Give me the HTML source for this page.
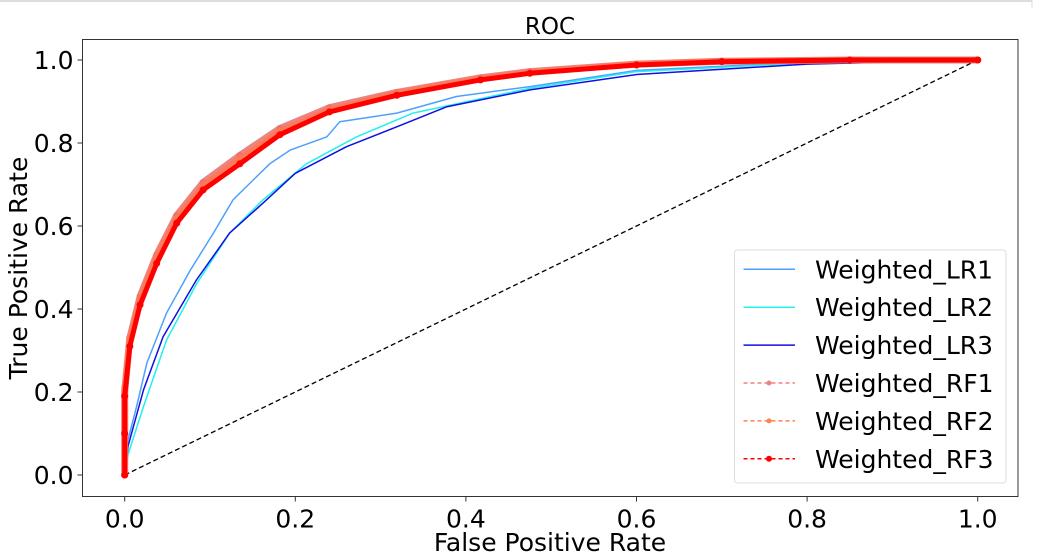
<!DOCTYPE html>
<html><head><meta charset="utf-8"><style>
html,body{margin:0;padding:0;background:#fff;}
svg{display:block;font-family:"DejaVu Sans","Liberation Sans",sans-serif;}
</style></head><body>
<svg id="chart" width="1049" height="559" viewBox="0 0 1049 559">
<line x1="0" y1="1" x2="1032" y2="1" stroke="#ddd" stroke-width="2"/>
<line x1="1032" y1="0" x2="1032" y2="8" stroke="#ddd" stroke-width="1"/>
<g id="plot"></g>
</svg>
<script>
const xTicks=[0,0.2,0.4,0.6,0.8,1.0];
const yTicks=[0,0.2,0.4,0.6,0.8,1.0];
const tickLabels=["0.0","0.2","0.4","0.6","0.8","1.0"];
const seriesNames=["Weighted_LR1","Weighted_LR2","Weighted_LR3","Weighted_RF1","Weighted_RF2","Weighted_RF3"];
const lr1F=[0,0.002,0.014,0.026,0.049,0.077,0.104,0.127,0.17,0.194,0.237,0.252,0.319,0.389,0.475,0.6,0.8,1];
const lr1T=[0,0.07,0.165,0.27,0.39,0.494,0.583,0.663,0.75,0.783,0.815,0.851,0.872,0.912,0.936,0.975,0.995,1];
const lr2F=[0,0.004,0.022,0.049,0.084,0.123,0.162,0.213,0.272,0.338,0.475,0.6,0.8,1];
const lr2T=[0,0.05,0.165,0.325,0.46,0.583,0.663,0.75,0.815,0.872,0.932,0.972,0.993,1];
const lr3F=[0,0.004,0.022,0.045,0.084,0.123,0.162,0.2,0.26,0.319,0.377,0.475,0.6,0.8,1];
const lr3T=[0,0.07,0.205,0.333,0.47,0.583,0.655,0.727,0.791,0.839,0.887,0.928,0.965,0.99,1];
const rf1F=[0,0,0.006,0.018,0.0375,0.061,0.092,0.135,0.182,0.24,0.319,0.417,0.475,0.6,0.7,0.85,1];
const rf1T=[0,0.2,0.33,0.43,0.53,0.625,0.705,0.77,0.835,0.885,0.922,0.957,0.972,0.99,0.997,1,1];
const rf2F=[0,0,0.006,0.018,0.0375,0.061,0.092,0.135,0.182,0.24,0.319,0.417,0.475,0.6,0.7,0.85,1];
const rf2T=[0,0.21,0.325,0.425,0.525,0.618,0.697,0.762,0.828,0.88,0.92,0.955,0.97,0.99,0.997,1,1];
const rf3F=[0,0,0,0.006,0.018,0.0375,0.061,0.092,0.135,0.182,0.24,0.319,0.417,0.475,0.6,0.7,0.85,1];
const rf3T=[0,0.1,0.19,0.31,0.41,0.51,0.607,0.687,0.75,0.82,0.875,0.915,0.952,0.968,0.988,0.996,1,1];

const NS="http://www.w3.org/2000/svg";
const g=document.getElementById('plot');
const L=82.5,R=1018,T=39.5,B=496.5;
const X0=124.7,X1=977.7,Y0=475,Y1=60;
function xs(v){return X0+(X1-X0)*v;}
function ys(v){return Y0-(Y0-Y1)*v;}
function mk(tag,attrs,parent){const e=document.createElementNS(NS,tag);for(const k in attrs)e.setAttribute(k,attrs[k]);(parent||g).appendChild(e);return e;}

const title=mk('text',{x:550,y:34,'text-anchor':'middle','font-size':23,fill:'#000'});
title.textContent='ROC';



xTicks.forEach((v,i)=>{
  const t=mk('line',{x1:xs(v),x2:xs(v),y1:B,y2:B+5,stroke:'#333','stroke-width':1});
  
  
  const l=mk('text',{x:xs(v),y:B+31,'text-anchor':'middle','font-size':25,fill:'#000'});
  l.textContent=tickLabels[i];
  
  
});
yTicks.forEach((v,i)=>{
  const t=mk('line',{x1:L-5,x2:L,y1:ys(v),y2:ys(v),stroke:'#333','stroke-width':1});
  
  
  const l=mk('text',{x:L-9,y:ys(v)+9,'text-anchor':'end','font-size':25,fill:'#000'});
  l.textContent=tickLabels[i];
  
  
});
const xl=mk('text',{x:550,y:551,'text-anchor':'middle','font-size':25,fill:'#000'});
xl.textContent='False Positive Rate';


const yl=mk('text',{x:0,y:0,'text-anchor':'middle','font-size':25,fill:'#000',transform:'translate(27,268) rotate(-90)'});
yl.textContent='True Positive Rate';



const diag=mk('line',{x1:xs(0),y1:ys(0),x2:xs(1),y2:ys(1),stroke:'#000','stroke-width':1.3,'stroke-dasharray':'5,3'});



function pts(F,Tv){return F.map((f,i)=>xs(f).toFixed(1)+','+ys(Tv[i]).toFixed(1)).join(' ');}
const lines=[
 [lr1F,lr1T,'#4da0ff',1.5,'lr1-line'],
 [lr2F,lr2T,'#22f0f0',1.5,'lr2-line'],
 [lr3F,lr3T,'#1010e0',1.5,'lr3-line'],
 [rf1F,rf1T,'rgba(232,110,110,0.85)',7,'rf1-line'],
 [rf2F,rf2T,'rgba(255,120,80,0.85)',6,'rf2-line'],
 [rf3F,rf3T,'#ff0000',5,'rf3-line']
];
lines.forEach(([F,Tv,c,w,name])=>{
  const p=mk('polyline',{points:pts(F,Tv),fill:'none',stroke:c,'stroke-width':w,'stroke-linejoin':'round','stroke-linecap':'round'});
  
  
  if(name.startsWith('rf')){
    F.forEach((f,i)=>{
      const m=mk('circle',{cx:xs(f),cy:ys(Tv[i]),r:3.5,fill:c});
      
      
    });
  }
});

const frame=mk('rect',{x:L,y:T,width:R-L,height:B-T,fill:'none',stroke:'#333','stroke-width':1});



const lg=mk('g',{});


mk('rect',{x:734.5,y:250,width:271.5,height:233,rx:3,fill:'rgba(255,255,255,0.85)',stroke:'#ddd','stroke-width':1},lg);
const legStyles=[['#4da0ff',null,null],['#22f0f0',null,null],['#1010e0',null,null],['#f08080','4,3',2.5],['#ff8050','4,3',2.5],['#ff0000','4,3',3]];
seriesNames.forEach((n,i)=>{
  const y=269.3+i*37.9;
  const [c,d,r]=legStyles[i];
  const ln=mk('line',{x1:743.5,x2:795,y1:y,y2:y,stroke:c,'stroke-width':1.5},lg);
  if(d)ln.setAttribute('stroke-dasharray',d);
  
  
  if(r){const m=mk('circle',{cx:769,cy:y,r:r,fill:c},lg);
    
    }
  const t=mk('text',{x:815,y:y+9,'font-size':25,fill:'#000'},lg);
  t.textContent=n;
  
  
});
</script>
</body></html>
